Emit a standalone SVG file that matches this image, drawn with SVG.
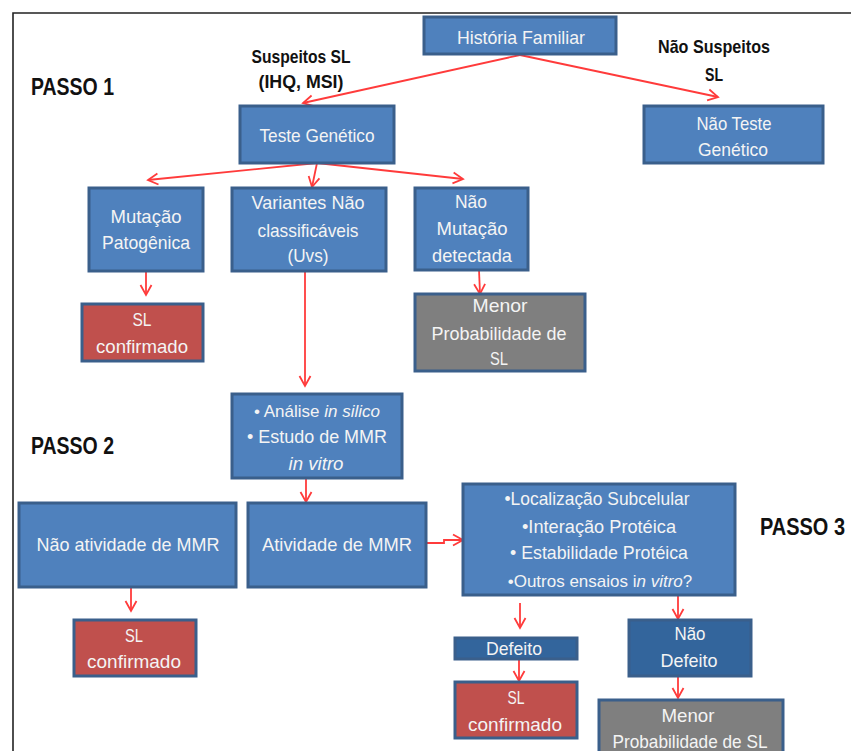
<svg xmlns="http://www.w3.org/2000/svg" width="851" height="751" viewBox="0 0 851 751">
<defs>
<marker id="arr" markerUnits="userSpaceOnUse" markerWidth="14" markerHeight="14" viewBox="-12 -7 14 14" refX="0" refY="0" orient="auto">
<path d="M-10,-5.5 L0,0 L-10,5.5" fill="none" stroke="#FF3B3B" stroke-width="1.8"/>
</marker>
</defs>
<style>
.b{fill:#4F81BD;stroke:#3A5F8B;stroke-width:3}
.d{fill:#33659C;stroke:#3A5F8B;stroke-width:3}
.r{fill:#C0504D;stroke:#3A5F8B;stroke-width:3}
.g{fill:#7F7F7F;stroke:#3A5F8B;stroke-width:3}
text{font-family:"Liberation Sans",Arial,sans-serif;text-anchor:middle}
.t{fill:#F4F4F4;font-size:19px}
.s{fill:#F4F4F4;font-size:17px}
.k{fill:#111;font-size:19px;font-weight:bold}
.p{fill:#111;font-size:20px;font-weight:bold;text-anchor:start}
.c{fill:none;stroke:#FF3B3B;stroke-width:1.8;marker-end:url(#arr)}
</style>
<rect width="851" height="751" fill="#fff"/>
<path d="M13,751 L13,13 L851,13" fill="none" stroke="#222" stroke-width="1.6"/>

<g id="labels">
<text class="p" transform="translate(31,95) scale(1,1.2)" textLength="83" lengthAdjust="spacingAndGlyphs">PASSO 1</text>
<text class="p" transform="translate(31,454) scale(1,1.2)" textLength="83" lengthAdjust="spacingAndGlyphs">PASSO 2</text>
<text class="p" transform="translate(760,535) scale(1,1.2)" textLength="85" lengthAdjust="spacingAndGlyphs">PASSO 3</text>
<text class="k" x="301" y="63" textLength="99" lengthAdjust="spacingAndGlyphs">Suspeitos SL</text>
<text class="k" x="301" y="88" textLength="85" lengthAdjust="spacingAndGlyphs">(IHQ, MSI)</text>
<text class="k" x="714" y="53" textLength="112" lengthAdjust="spacingAndGlyphs">Não Suspeitos</text>
<text class="k" x="714" y="81" textLength="18" lengthAdjust="spacingAndGlyphs">SL</text>
</g>

<g id="connectors">
<path class="c" d="M520,55 L303,103"/>
<path class="c" d="M520,55 L718,97"/>
<path class="c" d="M317,163 L148,180"/>
<path class="c" d="M317,163 L312,187"/>
<path class="c" d="M317,163 L463,179"/>
<path class="c" d="M146,271 L146,295"/>
<path class="c" d="M305,271 L305,386"/>
<path class="c" d="M479,270 L480,294"/>
<path class="c" d="M306,478 L306,502"/>
<path class="c" d="M426,543 L444,543 L444,540 L463,540"/>
<path class="c" d="M131,587 L131,611"/>
<path class="c" d="M520,603 L520,628"/>
<path class="c" d="M678,595 L678,619"/>
<path class="c" d="M519,659 L519,681"/>
<path class="c" d="M678,677 L678,698"/>
</g>

<g id="historia">
<rect class="b" x="424" y="17" width="192" height="37"/>
<text class="t" x="521" y="44" textLength="128" lengthAdjust="spacingAndGlyphs">História Familiar</text>
</g>
<g id="teste">
<rect class="b" x="240" y="106" width="154" height="57"/>
<text class="t" x="317" y="142" textLength="115" lengthAdjust="spacingAndGlyphs">Teste Genético</text>
</g>
<g id="naoteste">
<rect class="b" x="644" y="106" width="179" height="57"/>
<text class="t" x="734" y="130" textLength="75" lengthAdjust="spacingAndGlyphs">Não Teste</text>
<text class="t" x="733" y="156" textLength="70" lengthAdjust="spacingAndGlyphs">Genético</text>
</g>
<g id="mutacao">
<rect class="b" x="89" y="188" width="114" height="83"/>
<text class="t" x="146" y="223" textLength="71" lengthAdjust="spacingAndGlyphs">Mutação</text>
<text class="t" x="146" y="249" textLength="88" lengthAdjust="spacingAndGlyphs">Patogênica</text>
</g>
<g id="variantes">
<rect class="b" x="232" y="188" width="154" height="83"/>
<text class="t" x="308" y="209" textLength="113" lengthAdjust="spacingAndGlyphs">Variantes  Não</text>
<text class="t" x="308" y="237" textLength="101" lengthAdjust="spacingAndGlyphs">classificáveis</text>
<text class="t" x="308" y="262" textLength="41" lengthAdjust="spacingAndGlyphs">(Uvs)</text>
</g>
<g id="naomutacao">
<rect class="b" x="415" y="188" width="113" height="82"/>
<text class="t" x="471" y="208" textLength="32" lengthAdjust="spacingAndGlyphs">Não</text>
<text class="t" x="472" y="235" textLength="71" lengthAdjust="spacingAndGlyphs">Mutação</text>
<text class="t" x="472" y="262" textLength="80" lengthAdjust="spacingAndGlyphs">detectada</text>
</g>
<g id="slconf1">
<rect class="r" x="82" y="304" width="121" height="57"/>
<text class="t" x="142" y="326" textLength="19" lengthAdjust="spacingAndGlyphs">SL</text>
<text class="t" x="142" y="353" textLength="92" lengthAdjust="spacingAndGlyphs">confirmado</text>
</g>
<g id="menor1">
<rect class="g" x="415" y="294" width="170" height="77"/>
<text class="t" x="500" y="312" textLength="55" lengthAdjust="spacingAndGlyphs">Menor</text>
<text class="t" x="499" y="340" textLength="135" lengthAdjust="spacingAndGlyphs">Probabilidade de</text>
<text class="t" x="499" y="365" textLength="18" lengthAdjust="spacingAndGlyphs">SL</text>
</g>
<g id="analise">
<rect class="b" x="232" y="394" width="170" height="84"/>
<text class="s" x="317" y="417">• Análise <tspan font-style="italic">in silico</tspan></text>
<text class="t" x="317" y="443" textLength="140" lengthAdjust="spacingAndGlyphs">• Estudo de MMR</text>
<text class="t" x="316" y="470" font-style="italic" textLength="55" lengthAdjust="spacingAndGlyphs">in vitro</text>
</g>
<g id="naoatividade">
<rect class="b" x="19" y="503" width="217" height="84"/>
<text class="t" x="128" y="551" textLength="183" lengthAdjust="spacingAndGlyphs">Não atividade de MMR</text>
</g>
<g id="atividade">
<rect class="b" x="248" y="503" width="178" height="84"/>
<text class="t" x="337" y="551" textLength="150" lengthAdjust="spacingAndGlyphs">Atividade de MMR</text>
</g>
<g id="ensaios">
<rect class="b" x="463" y="484" width="272" height="111"/>
<text class="t" x="597" y="505" textLength="185" lengthAdjust="spacingAndGlyphs">•Localização Subcelular</text>
<text class="t" x="599" y="533" textLength="154" lengthAdjust="spacingAndGlyphs">•Interação Protéica</text>
<text class="t" x="599" y="559" textLength="178" lengthAdjust="spacingAndGlyphs">• Estabilidade  Protéica</text>
<text class="s" x="600" y="587">•Outros ensaios i<tspan font-style="italic">n vitro</tspan>?</text>
</g>
<g id="slconf2">
<rect class="r" x="74" y="620" width="122" height="56"/>
<text class="t" x="134" y="642" textLength="18" lengthAdjust="spacingAndGlyphs">SL</text>
<text class="t" x="134" y="668" textLength="94" lengthAdjust="spacingAndGlyphs">confirmado</text>
</g>
<g id="defeito">
<rect class="d" x="455" y="638" width="122" height="21"/>
<text class="t" x="514" y="655" textLength="56" lengthAdjust="spacingAndGlyphs">Defeito</text>
</g>
<g id="naodefeito">
<rect class="d" x="629" y="620" width="122" height="56"/>
<text class="t" x="690" y="640" textLength="31" lengthAdjust="spacingAndGlyphs">Não</text>
<text class="t" x="689" y="667" textLength="57" lengthAdjust="spacingAndGlyphs">Defeito</text>
</g>
<g id="slconf3">
<rect class="r" x="455" y="682" width="122" height="56"/>
<text class="t" x="516" y="704" textLength="17" lengthAdjust="spacingAndGlyphs">SL</text>
<text class="t" x="515" y="731" textLength="94" lengthAdjust="spacingAndGlyphs">confirmado</text>
</g>
<g id="menor2">
<rect class="g" x="599" y="700" width="184" height="60"/>
<text class="t" x="688" y="722" textLength="53" lengthAdjust="spacingAndGlyphs">Menor</text>
<text class="t" x="690" y="748" textLength="155" lengthAdjust="spacingAndGlyphs">Probabilidade de SL</text>
</g>
</svg>
